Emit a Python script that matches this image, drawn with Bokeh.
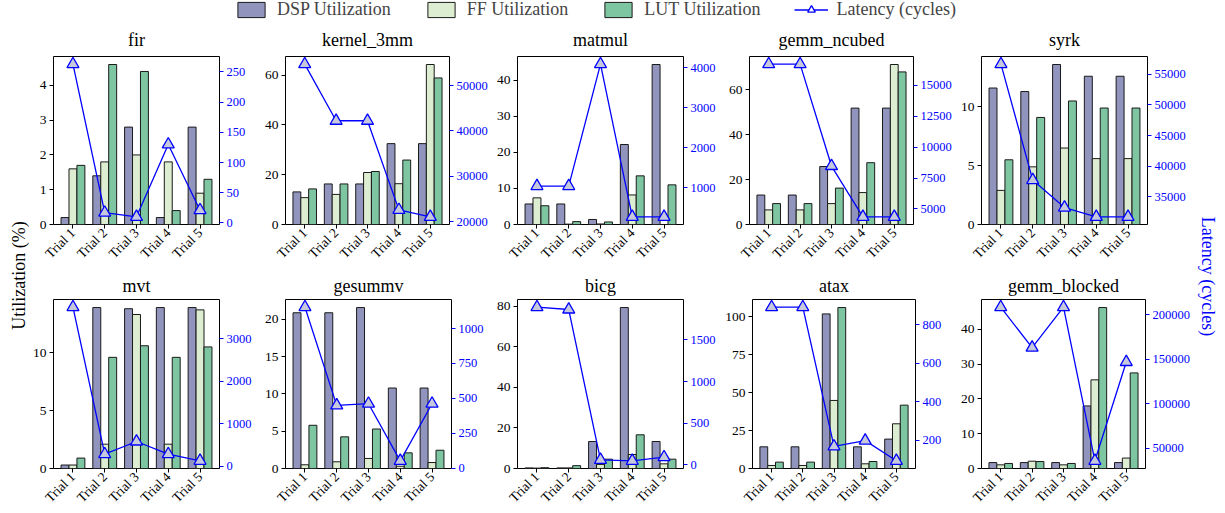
import math
from bokeh.plotting import figure
from bokeh.models import (ColumnDataSource, Range1d, FactorRange, LinearAxis, FixedTicker,
                          BasicTickFormatter, Legend, LegendItem, Label, Title)
from bokeh.transform import dodge
from bokeh.layouts import column, row
from bokeh.embed import file_html
from bokeh.resources import INLINE

# ---------------- data ----------------
trials = ["Trial 1", "Trial 2", "Trial 3", "Trial 4", "Trial 5"]
kernels = ["fir", "kernel_3mm", "matmul", "gemm_ncubed", "syrk",
           "mvt", "gesummv", "bicg", "atax", "gemm_blocked"]

fir_dsp = [0.2, 1.4, 2.8, 0.2, 2.8]
fir_ff = [1.6, 1.8, 2.0, 1.8, 0.9]
fir_lut = [1.7, 4.6, 4.4, 0.4, 1.3]
fir_lat = [263, 17, 10, 130, 21]

kernel_3mm_dsp = [13.1, 16.3, 16.3, 32.5, 32.5]
kernel_3mm_ff = [10.8, 12.1, 20.9, 16.4, 64.3]
kernel_3mm_lut = [14.3, 16.3, 21.3, 25.9, 58.9]
kernel_3mm_lat = [54700, 42240, 42240, 22630, 21100]

matmul_dsp = [5.7, 5.7, 1.4, 22.2, 44.4]
matmul_ff = [7.4, 0.1, 0.15, 8.2, 0.0]
matmul_lut = [5.2, 0.8, 0.7, 13.5, 11.0]
matmul_lat = [1040, 1040, 4090, 270, 270]

gemm_ncubed_dsp = [13.1, 13.1, 25.8, 51.8, 51.8]
gemm_ncubed_ff = [6.5, 6.5, 9.3, 14.2, 71.2]
gemm_ncubed_lut = [9.3, 9.3, 16.2, 27.5, 67.9]
gemm_ncubed_lat = [16720, 16720, 8470, 4355, 4355]

syrk_dsp = [11.6, 11.3, 13.6, 12.6, 12.6]
syrk_ff = [2.9, 4.9, 6.5, 5.6, 5.6]
syrk_lut = [5.5, 9.1, 10.5, 9.9, 9.9]
syrk_lat = [56620, 37750, 33275, 31765, 31765]

mvt_dsp = [0.3, 13.9, 13.8, 13.9, 13.9]
mvt_ff = [0.3, 2.1, 13.3, 2.1, 13.7]
mvt_lut = [0.9, 9.6, 10.6, 9.6, 10.5]
mvt_lat = [3740, 283, 580, 283, 126]

gesummv_dsp = [20.9, 20.9, 21.6, 10.8, 10.8]
gesummv_ff = [0.5, 0.9, 1.35, 0.3, 0.8]
gesummv_lut = [5.8, 4.25, 5.3, 2.1, 2.45]
gesummv_lat = [1153, 450, 462, 53, 462]

bicg_dsp = [0.3, 0.3, 13.3, 79.3, 13.3]
bicg_ff = [0.2, 0.3, 2.0, 6.9, 2.3]
bicg_lut = [0.4, 1.4, 4.6, 16.6, 4.6]
bicg_lat = [1893, 1865, 60, 48, 92]

atax_dsp = [14.3, 14.3, 102.0, 14.3, 19.4]
atax_ff = [2.0, 2.0, 44.9, 3.1, 29.5]
atax_lut = [4.2, 4.2, 106.2, 4.6, 41.8]
atax_lat = [891, 891, 167, 197, 92]

gemm_blocked_dsp = [1.7, 1.7, 1.7, 18.0, 1.7]
gemm_blocked_ff = [1.05, 2.1, 1.05, 25.5, 3.0]
gemm_blocked_lut = [1.45, 2.0, 1.45, 46.3, 27.5]
gemm_blocked_lat = [208600, 163200, 208600, 36100, 147000]

# tick values (left utilization axis, right latency axis)
fir_lticks = [0, 1, 2, 3, 4]
fir_rticks = [0, 50, 100, 150, 200, 250]
kernel_3mm_lticks = [0, 20, 40, 60]
kernel_3mm_rticks = [20000, 30000, 40000, 50000]
matmul_lticks = [0, 10, 20, 30, 40]
matmul_rticks = [1000, 2000, 3000, 4000]
gemm_ncubed_lticks = [0, 20, 40, 60]
gemm_ncubed_rticks = [5000, 7500, 10000, 12500, 15000]
syrk_lticks = [0, 5, 10]
syrk_rticks = [35000, 40000, 45000, 50000, 55000]
mvt_lticks = [0, 5, 10]
mvt_rticks = [0, 1000, 2000, 3000]
gesummv_lticks = [0, 5, 10, 15, 20]
gesummv_rticks = [0, 250, 500, 750, 1000]
bicg_lticks = [0, 20, 40, 60, 80]
bicg_rticks = [0, 500, 1000, 1500]
atax_lticks = [0, 25, 50, 75, 100]
atax_rticks = [200, 400, 600, 800]
gemm_blocked_lticks = [0, 10, 20, 30, 40]
gemm_blocked_rticks = [50000, 100000, 150000, 200000]

series_labels = ["DSP Utilization", "FF Utilization", "LUT Utilization", "Latency (cycles)"]

panels = {
    "fir": (fir_dsp, fir_ff, fir_lut, fir_lat, fir_lticks, fir_rticks),
    "kernel_3mm": (kernel_3mm_dsp, kernel_3mm_ff, kernel_3mm_lut, kernel_3mm_lat, kernel_3mm_lticks, kernel_3mm_rticks),
    "matmul": (matmul_dsp, matmul_ff, matmul_lut, matmul_lat, matmul_lticks, matmul_rticks),
    "gemm_ncubed": (gemm_ncubed_dsp, gemm_ncubed_ff, gemm_ncubed_lut, gemm_ncubed_lat, gemm_ncubed_lticks, gemm_ncubed_rticks),
    "syrk": (syrk_dsp, syrk_ff, syrk_lut, syrk_lat, syrk_lticks, syrk_rticks),
    "mvt": (mvt_dsp, mvt_ff, mvt_lut, mvt_lat, mvt_lticks, mvt_rticks),
    "gesummv": (gesummv_dsp, gesummv_ff, gesummv_lut, gesummv_lat, gesummv_lticks, gesummv_rticks),
    "bicg": (bicg_dsp, bicg_ff, bicg_lut, bicg_lat, bicg_lticks, bicg_rticks),
    "atax": (atax_dsp, atax_ff, atax_lut, atax_lat, atax_lticks, atax_rticks),
    "gemm_blocked": (gemm_blocked_dsp, gemm_blocked_ff, gemm_blocked_lut, gemm_blocked_lat, gemm_blocked_lticks, gemm_blocked_rticks),
}

# ---------------- style ----------------
FONT = "Liberation Serif"
DSP_C = "#9195bd"
FF_C = "#ddedd1"
LUT_C = "#7ec5a2"
LAT_C = "#0000ff"
MARK_FILL = "#c6c8dc"
EDGE = "#1a1a1a"
FRAME_W = 166
FRAME_H = 169


def make_panel(name, width, height, bl, br, bt, bb, title_standoff):
    dsp, ff, lut, lat, lticks, rticks = panels[name]
    src = ColumnDataSource(dict(trial=trials, dsp=dsp, ff=ff, lut=lut, lat=lat))
    ymax = max(dsp + ff + lut) * 1.05
    lo, hi = min(lat), max(lat)
    pad = 0.05 * (hi - lo)
    p = figure(x_range=FactorRange(*trials, range_padding=0.045),
               y_range=Range1d(0, ymax),
               width=width, height=height,
               output_backend="svg", toolbar_location=None,
               min_border_left=bl, min_border_right=br,
               min_border_top=bt, min_border_bottom=bb)
    p.title.text = ""
    p.add_layout(Title(text=name, text_font=FONT, text_font_size="18px",
                       text_font_style="normal", text_color="#000000",
                       align="center", standoff=title_standoff), "above")
    p.extra_y_ranges = {"lat": Range1d(lo - pad, hi + pad)}
    for key, off, col in (("dsp", -0.25, DSP_C), ("ff", 0.0, FF_C), ("lut", 0.25, LUT_C)):
        p.vbar(x=dodge("trial", off, range=p.x_range), top=key, width=0.25, bottom=0,
               source=src, fill_color=col, line_color=EDGE, line_width=1)
    p.line(x="trial", y="lat", y_range_name="lat", source=src, line_color=LAT_C, line_width=1.3)
    p.scatter(x="trial", y="lat", y_range_name="lat", source=src, marker="triangle", size=12,
              fill_color=MARK_FILL, line_color=LAT_C, line_width=1.3)

    ra = LinearAxis(y_range_name="lat", ticker=FixedTicker(ticks=rticks, minor_ticks=[]),
                    formatter=BasicTickFormatter(use_scientific=False))
    p.add_layout(ra, "right")
    ra.axis_line_color = None
    ra.major_tick_line_color = LAT_C
    ra.major_tick_out = 4
    ra.major_tick_in = 0
    ra.minor_tick_line_color = None
    ra.major_label_text_color = LAT_C
    ra.major_label_text_font = FONT
    ra.major_label_text_font_size = "12.5px"
    ra.major_label_standoff = 3

    ya = p.yaxis[0]
    ya.ticker = FixedTicker(ticks=lticks, minor_ticks=[])
    ya.axis_line_color = None
    ya.major_tick_line_color = "black"
    ya.major_tick_out = 4
    ya.major_tick_in = 0
    ya.minor_tick_line_color = None
    ya.major_label_text_color = "black"
    ya.major_label_text_font = FONT
    ya.major_label_text_font_size = "13.5px"
    ya.major_label_standoff = 3

    xa = p.xaxis[0]
    xa.axis_line_color = None
    xa.major_tick_line_color = "black"
    xa.major_tick_out = 4
    xa.major_tick_in = 0
    xa.major_label_orientation = math.pi / 4
    xa.major_label_text_font = FONT
    xa.major_label_text_font_size = "13.5px"
    xa.major_label_text_color = "black"
    xa.major_label_standoff = 2

    p.grid.visible = False
    p.outline_line_color = "black"
    p.outline_line_width = 1
    p.background_fill_color = "white"
    p.border_fill_color = "white"
    return p


# geometry (page has no margin: full 1225 x 513)
W_LEFT = 29
BL1, BL = 24, 27
BR, BR_LAST = 39, 46
W_RIGHT = 32
H_LEG = 20
BT1, BT2 = 36, 30
H_ROW1 = BT1 + FRAME_H + 44
H_ROW2 = 513 - H_LEG - H_ROW1

row1, row2 = [], []
for names, target, hrow, bt, so in ((kernels[:5], row1, H_ROW1, BT1, 14),
                                    (kernels[5:], row2, H_ROW2, BT2, 8)):
    for i, name in enumerate(names):
        bl = BL1 if i == 0 else BL
        br = BR_LAST if i == 4 else BR
        target.append(make_panel(name, bl + FRAME_W + br, hrow, bl, br, bt,
                                 hrow - bt - FRAME_H, so))

total_w = W_LEFT + sum(f.width for f in row1) + W_RIGHT

# legend figure (dummy renderers kept outside the visible range)
leg = figure(width=total_w, height=H_LEG, x_range=Range1d(0, 1), y_range=Range1d(0, 1),
             output_backend="svg", toolbar_location=None,
             x_axis_location=None, y_axis_location=None,
             min_border_left=0, min_border_right=0, min_border_top=0, min_border_bottom=0)
leg.grid.visible = False
leg.outline_line_color = None
dummy = ColumnDataSource(dict(x=[-5], y=[-5], top=[-5]))
r_dsp = leg.vbar(x="x", top="top", width=0.1, source=dummy, fill_color=DSP_C, line_color=EDGE)
r_ff = leg.vbar(x="x", top="top", width=0.1, source=dummy, fill_color=FF_C, line_color=EDGE)
r_lut = leg.vbar(x="x", top="top", width=0.1, source=dummy, fill_color=LUT_C, line_color=EDGE)
r_line = leg.line(x="x", y="y", source=dummy, line_color=LAT_C, line_width=1.3)
r_mark = leg.scatter(x="x", y="y", source=dummy, marker="triangle", size=10,
                     fill_color="white", line_color=LAT_C, line_width=1.3)
legend = Legend(items=[LegendItem(label=series_labels[0], renderers=[r_dsp]),
                       LegendItem(label=series_labels[1], renderers=[r_ff]),
                       LegendItem(label=series_labels[2], renderers=[r_lut]),
                       LegendItem(label=series_labels[3], renderers=[r_line, r_mark])],
                orientation="horizontal", location=(234, 0),
                glyph_width=34, glyph_height=19, label_standoff=9, spacing=33,
                padding=0, margin=0, border_line_color=None, background_fill_alpha=0,
                label_text_font=FONT, label_text_font_size="18px", label_height=20)
leg.add_layout(legend)

H_ROWS = H_ROW1 + H_ROW2


def side_fig(width, text, color, angle, xfrac, yfrac):
    f = figure(width=width, height=H_ROWS, x_range=Range1d(0, 1), y_range=Range1d(0, 1),
               output_backend="svg", toolbar_location=None,
               x_axis_location=None, y_axis_location=None,
               min_border_left=0, min_border_right=0, min_border_top=0, min_border_bottom=0)
    f.grid.visible = False
    f.outline_line_color = None
    f.add_layout(Label(x=xfrac, y=yfrac, text=text, angle=angle, text_align="center",
                       text_baseline="middle", text_font=FONT, text_font_size="18px",
                       text_color=color))
    return f


left_f = side_fig(W_LEFT, "Utilization (%)", "black", math.pi / 2, 18 / W_LEFT, (513 - 275) / H_ROWS)
right_f = side_fig(W_RIGHT, "Latency (cycles)", LAT_C, -math.pi / 2, 14 / W_RIGHT, (513 - 276) / H_ROWS)

layout = column(leg, row(left_f, column(row(*row1), row(*row2)), right_f))

open("out.html", "w").write(file_html(layout, INLINE))
